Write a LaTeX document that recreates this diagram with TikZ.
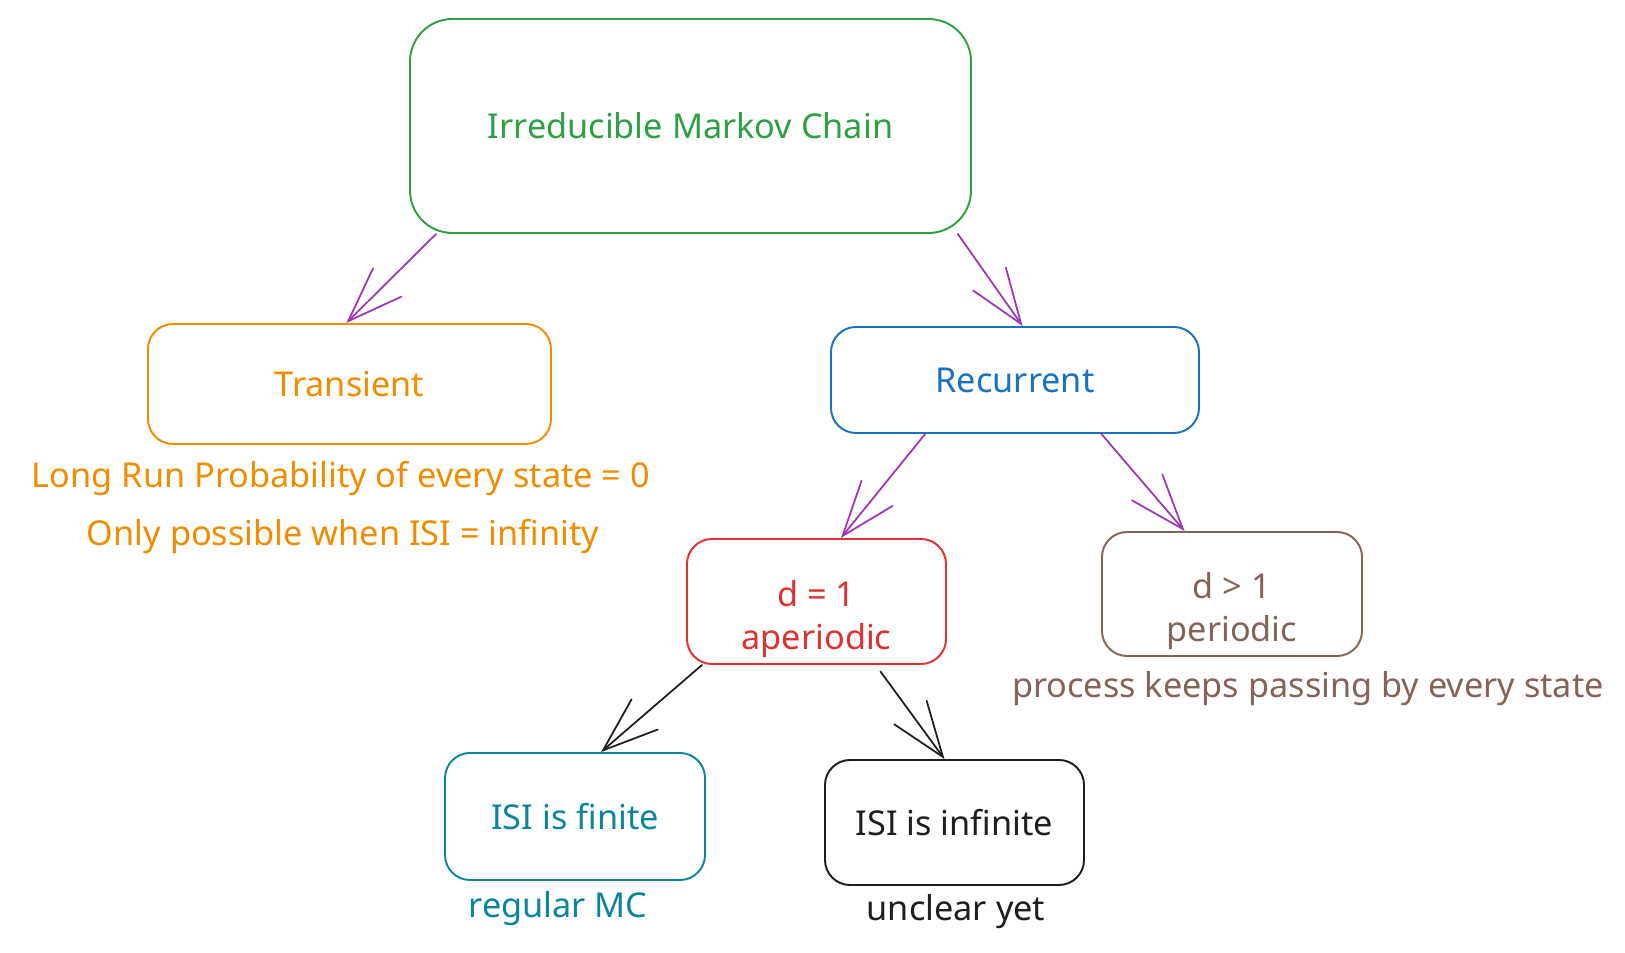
\documentclass[tikz,border=0pt]{standalone}
\usepackage{fontspec}
\setmainfont{Noto Sans}
\usetikzlibrary{arrows.meta}

\definecolor{xgreen}{HTML}{2F9E44}
\definecolor{xorange}{HTML}{F08C00}
\definecolor{xblue}{HTML}{1971C2}
\definecolor{xred}{HTML}{E03131}
\definecolor{xbrown}{HTML}{846358}
\definecolor{xteal}{HTML}{0C8599}
\definecolor{xblack}{HTML}{1E1E1E}
\definecolor{xpurple}{HTML}{9C36B5}

\begin{document}
\begin{tikzpicture}
        \tikzstyle{every node}=[font=\fontsize{19.5}{24.5}\selectfont, align=center]
        \tikzstyle{box}=[rectangle, draw, line width=1.1pt, rounded corners=0.5cm]
        \tikzstyle{edge}=[xpurple, line width=1pt, line cap=round, -{Straight Barb[length=1.1cm, width=0.8cm, line cap=round]}]

        \useasboundingbox (0,0) rectangle (32.5,19.06);

        \node[box, xgreen, minimum width=11.22cm, minimum height=4.28cm, rounded corners=0.85cm] (chain) at (13.81,16.54) {Irreducible Markov Chain};
        \node[box, xorange, minimum width=8.06cm, minimum height=2.40cm] (trans) at (6.99,11.38) {Transient};
        \node[box, xblue, minimum width=7.36cm, minimum height=2.12cm] (rec) at (20.30,11.46) {Recurrent};
        \node[box, xred, minimum width=5.18cm, minimum height=2.50cm] (aper) at (16.33,7.03) {};
        \node[box, xbrown, minimum width=5.20cm, minimum height=2.48cm] (per) at (24.64,7.18) {};
        \node[box, xteal, minimum width=5.20cm, minimum height=2.54cm] (fin) at (11.50,2.73) {ISI is finite};
        \node[box, xblack, minimum width=5.18cm, minimum height=2.50cm] (inf) at (19.09,2.61) {ISI is infinite};

        \node[xred] (apertxt) at (16.33,6.67) {d = 1\\aperiodic};
        \node[xbrown] (pertxt) at (24.64,6.83) {d > 1\\periodic};

        \node[xorange] (longrun) at (6.82,9.48) {Long Run Probability of every state = 0};
        \node[xorange] (onlyif) at (6.86,8.32) {Only possible when ISI = infinity};
        \node[xbrown] (passing) at (26.16,5.28) {process keeps passing by every state};
        \node[xteal] (regular) at (11.16,0.88) {regular MC};
        \node[xblack] (unclear) at (19.12,0.82) {unclear yet};

        \draw[edge] (chain.203) -- (trans.93);
        \draw[edge] (chain.338) -- (rec.82);
        \draw[edge] (rec.211) -- (aper.69);
        \draw[edge] (rec.328) -- (per.127);

        \tikzstyle{edge}=[xblack, line width=1pt, line cap=round, -{Straight Barb[length=1.1cm, width=0.8cm, line cap=round]}]
        \draw[edge] (aper.209) -- (fin.68);
        \draw[edge, shorten <=0.16cm] (aper.313) -- (inf.99);
\end{tikzpicture}
\end{document}
